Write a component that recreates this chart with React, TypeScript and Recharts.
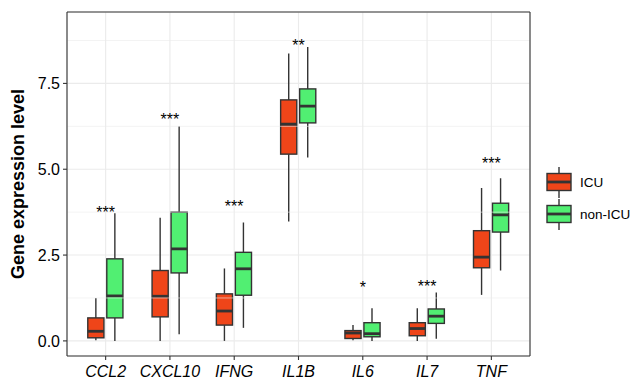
import React from 'react';
import {
  ComposedChart, Bar, Line, XAxis, YAxis, CartesianGrid,
  ReferenceLine, Legend,
} from 'recharts';

const genes = ['CCL2', 'CXCL10', 'IFNG', 'IL1B', 'IL6', 'IL7', 'TNF'];

// ICU: lower whisker, Q1, median, Q3, upper whisker
const icuMin = [0.02, 0.0, 0.0, 3.48, 0.02, 0.0, 1.34];
const icuQ1 = [0.09, 0.7, 0.46, 5.44, 0.07, 0.15, 2.13];
const icuMed = [0.28, 1.3, 0.87, 6.31, 0.23, 0.36, 2.44];
const icuQ3 = [0.67, 2.05, 1.37, 7.02, 0.3, 0.53, 3.21];
const icuMax = [1.25, 3.59, 2.11, 8.37, 0.46, 0.95, 4.45];

// non-ICU
const nonMin = [0.0, 0.19, 0.38, 5.34, 0.0, 0.06, 2.05];
const nonQ1 = [0.67, 1.98, 1.33, 6.35, 0.12, 0.51, 3.17];
const nonMed = [1.31, 2.68, 2.1, 6.84, 0.21, 0.72, 3.67];
const nonQ3 = [2.39, 3.75, 2.58, 7.34, 0.53, 0.93, 4.01];
const nonMax = [3.72, 6.25, 3.45, 8.56, 0.95, 1.41, 4.74];

// significance stars and the height they sit at
const sigLabels = ['***', '***', '***', '**', '*', '***', '***'];
const sigY = [3.84, 6.54, 4.01, 8.71, 1.66, 1.69, 5.26];

const yTicks = [0, 2.5, 5, 7.5];
const yMinor = [1.25, 3.75, 6.25, 8.75];
const yDomain = [-0.44, 9.58];

const ICU_COLOR = '#EF4519';
const NON_COLOR = '#51EF72';
const LINE = '#333333';
const FONT = '"Liberation Sans", Arial, Helvetica, sans-serif';

const data = genes.map((gene, i) => ({
  gene,
  icu: { min: icuMin[i], q1: icuQ1[i], med: icuMed[i], q3: icuQ3[i], max: icuMax[i] },
  non: { min: nonMin[i], q1: nonQ1[i], med: nonMed[i], q3: nonQ3[i], max: nonMax[i] },
  sig: sigLabels[i],
  sigY: sigY[i],
}));

// box drawn inside the range bar [min, max]; y of a value comes from the bar's own scale
const makeBox = (group: 'icu' | 'non', fill: string) => (props: any) => {
  const { x, y, width, height, payload } = props;
  const s = payload[group];
  const top = Math.min(y, y + height);
  const h = Math.abs(height);
  const py = (v: number) => top + ((s.max - v) / (s.max - s.min)) * h;
  const cx = x + width / 2;
  const bw = width * 0.85;
  return (
    <g>
      <line x1={cx} x2={cx} y1={py(s.max)} y2={py(s.q3)} stroke={LINE} strokeWidth={1.4} />
      <line x1={cx} x2={cx} y1={py(s.q1)} y2={py(s.min)} stroke={LINE} strokeWidth={1.4} />
      <rect x={cx - bw / 2} y={py(s.q3)} width={bw} height={py(s.q1) - py(s.q3)}
        fill={fill} stroke={LINE} strokeWidth={1.4} />
      <line x1={cx - bw / 2} x2={cx + bw / 2} y1={py(s.med)} y2={py(s.med)} stroke={LINE} strokeWidth={2.8} />
    </g>
  );
};

const StarDot = (props: any) => {
  const { cx, cy, payload, index } = props;
  return (
    <text key={`sig-${index}`} x={cx} y={cy + 9} textAnchor="middle"
      fontSize={16} fontFamily={FONT} fill="#000">
      {payload.sig}
    </text>
  );
};

const LegendKey = ({ fill }: { fill: string }) => (
  <svg width={26} height={31} style={{ display: 'block' }}>
    <line x1={13} x2={13} y1={0} y2={31} stroke={LINE} strokeWidth={1.4} />
    <rect x={1} y={6.5} width={24} height={17} fill={fill} stroke={LINE} strokeWidth={1.4} />
    <line x1={1} x2={25} y1={15} y2={15} stroke={LINE} strokeWidth={2.8} />
  </svg>
);

const renderLegend = (props: any) => {
  const items = (props.payload || []).filter((p: any) => p.type !== 'none');
  return (
    <div style={{ fontFamily: FONT, fontSize: 13.5, color: '#000' }}>
      {items.map((p: any) => (
        <div key={p.value} style={{ display: 'flex', alignItems: 'center', height: 31, marginBottom: 0.5 }}>
          <LegendKey fill={p.color} />
          <span style={{ marginLeft: 8 }}>{p.value}</span>
        </div>
      ))}
    </div>
  );
};

const borderLine = { stroke: LINE, strokeWidth: 1.1 };

function App() {
  return (
    <div style={{ position: 'absolute', left: 0, top: 0, background: '#fff' }}>
      <ComposedChart
        width={633}
        height={383}
        data={data}
        margin={{ top: 11, right: 102, bottom: 0, left: 0 }}
        barCategoryGap="20%"
        barGap={0}
      >
        <CartesianGrid stroke="#EBEBEB" strokeWidth={1.1} />
        {yMinor.map((v) => (
          <ReferenceLine key={v} y={v} stroke="#EBEBEB" strokeWidth={0.6} />
        ))}
        <XAxis
          dataKey="gene"
          type="category"
          height={27}
          padding={{ left: 6.5, right: 6.5 }}
          axisLine={borderLine}
          tickLine={{ stroke: LINE, strokeWidth: 1.1 }}
          tickSize={4}
          tickMargin={6}
          tick={{ fill: '#000', fontSize: 16, fontStyle: 'italic', fontFamily: FONT }}
          interval={0}
        />
        <XAxis
          xAxisId="top"
          orientation="top"
          dataKey="gene"
          type="category"
          height={1}
          axisLine={borderLine}
          tickLine={false}
          tick={false}
        />
        <YAxis
          type="number"
          width={67}
          domain={yDomain}
          ticks={yTicks}
          allowDataOverflow
          axisLine={borderLine}
          tickLine={{ stroke: LINE, strokeWidth: 1.1 }}
          tickSize={4}
          tickMargin={3}
          tickFormatter={(v: number) => v.toFixed(1)}
          tick={{ fill: '#000', fontSize: 16, fontFamily: FONT }}
          label={{
            value: 'Gene expression level',
            angle: -90,
            position: 'insideLeft',
            offset: 17.6,
            style: { textAnchor: 'middle', fontWeight: 'bold', fontSize: 18, fontFamily: FONT, fill: '#000' },
          }}
        />
        <YAxis
          yAxisId="right"
          orientation="right"
          type="number"
          width={1}
          domain={yDomain}
          axisLine={borderLine}
          tickLine={false}
          tick={false}
        />
        <Bar
          name="ICU"
          dataKey={(d: any) => [d.icu.min, d.icu.max]}
          fill={ICU_COLOR}
          shape={makeBox('icu', ICU_COLOR)}
          isAnimationActive={false}
        />
        <Bar
          name="non-ICU"
          dataKey={(d: any) => [d.non.min, d.non.max]}
          fill={NON_COLOR}
          shape={makeBox('non', NON_COLOR)}
          isAnimationActive={false}
        />
        <Line
          dataKey="sigY"
          stroke="none"
          legendType="none"
          dot={StarDot}
          activeDot={false}
          isAnimationActive={false}
        />
        <Legend
          layout="horizontal"
          align="center"
          verticalAlign="middle"
          content={renderLegend}
          wrapperStyle={{ left: 546, top: 167, width: 'auto', height: 'auto' }}
        />
      </ComposedChart>
    </div>
  );
}

export default App;
